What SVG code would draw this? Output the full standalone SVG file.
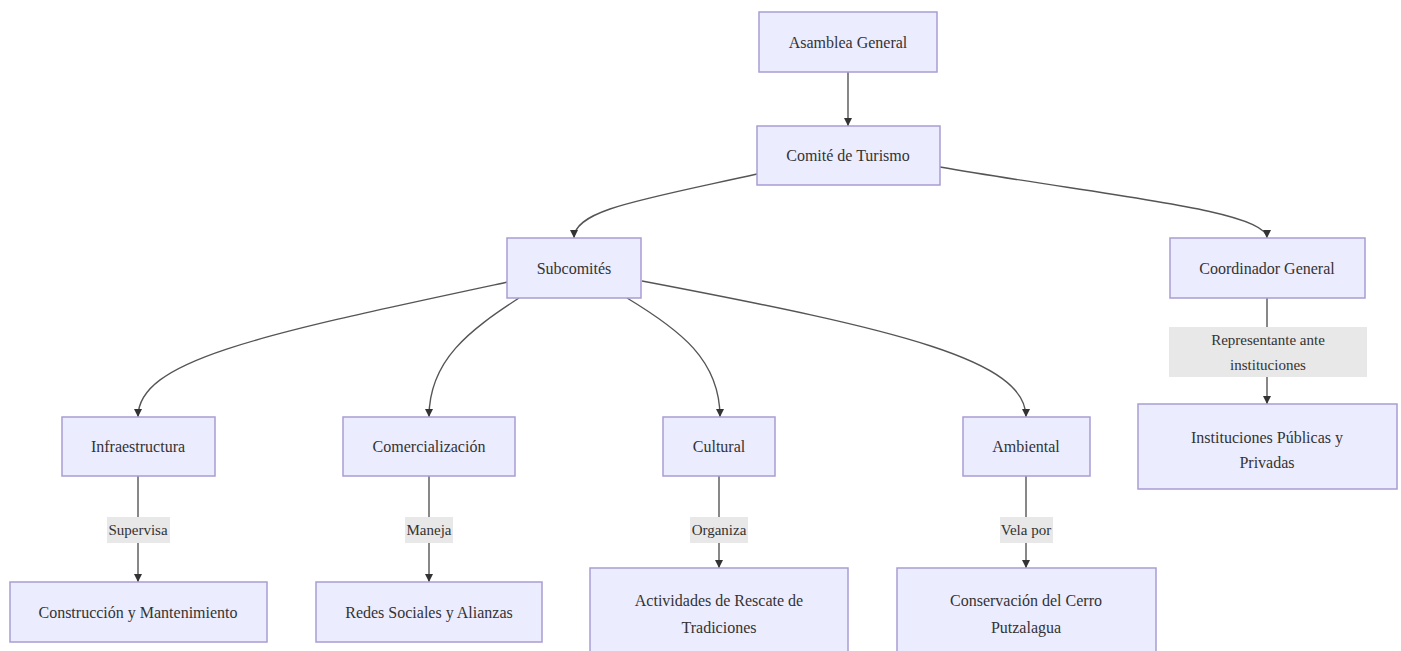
<svg xmlns="http://www.w3.org/2000/svg" width="1401" height="651" viewBox="0 0 1401 651">
<style>
.node rect{fill:#ECECFF;stroke:#a89dd4;stroke-width:1.5}
.node text,.lbl text{font-family:"Liberation Serif","Times New Roman",serif;font-size:16px;fill:#333;text-anchor:middle;dominant-baseline:central}
.lbl text{font-size:15px}
.lbl rect{fill:#e8e8e8}
.edge{fill:none;stroke:#555;stroke-width:1.4;marker-end:url(#arr)}
</style>
<defs>
<marker id="arr" viewBox="0 0 10 10" refX="10" refY="5" markerWidth="8" markerHeight="8" markerUnits="userSpaceOnUse" orient="auto">
<path d="M0,0 L10,5 L0,10 z" fill="#333"/>
</marker>
</defs>
<rect width="1401" height="651" fill="#fff"/>
<g id="connectors">
<path class="edge" d="M848,72 L848,126"/>
<path class="edge" d="M757,174 C640,200 574,210 574,238"/>
<path class="edge" d="M940,167 C1100,195 1267,210 1267,238"/>
<path class="edge" d="M508,282 C260,335 138,360 138,417"/>
<path class="edge" d="M519,298 C470,330 429,360 429,417"/>
<path class="edge" d="M627,298 C680,330 720,360 720,417"/>
<path class="edge" d="M642,281 C900,330 1026,360 1026,417"/>
<path class="edge" d="M138,476 L138,582"/>
<path class="edge" d="M429,476 L429,582"/>
<path class="edge" d="M719,476 L719,568"/>
<path class="edge" d="M1026,476 L1026,568"/>
<path class="edge" d="M1267,298 L1267,404"/>
<g class="lbl" id="lbl-supervisa"><rect x="107" y="517" width="63" height="26"/><text x="138" y="530">Supervisa</text></g>
<g class="lbl" id="lbl-maneja"><rect x="405" y="517" width="48" height="26"/><text x="429" y="530">Maneja</text></g>
<g class="lbl" id="lbl-organiza"><rect x="690" y="517" width="58" height="26"/><text x="719" y="530">Organiza</text></g>
<g class="lbl" id="lbl-vela"><rect x="1000" y="517" width="53" height="26"/><text x="1026" y="530">Vela por</text></g>
<g class="lbl" id="lbl-repr"><rect x="1169" y="327" width="198" height="50"/><text x="1268" y="340">Representante ante</text><text x="1268" y="365">instituciones</text></g>
</g>
<g class="node" id="asamblea"><rect x="759" y="12" width="178" height="60"/><text x="848" y="42">Asamblea General</text></g>
<g class="node" id="comite"><rect x="757" y="126" width="183" height="59"/><text x="848" y="155">Comité de Turismo</text></g>
<g class="node" id="subcomites"><rect x="507" y="238" width="134" height="60"/><text x="574" y="268">Subcomités</text></g>
<g class="node" id="coordinador"><rect x="1170" y="238" width="195" height="60"/><text x="1267" y="268">Coordinador General</text></g>
<g class="node" id="instituciones"><rect x="1138" y="404" width="259" height="85"/><text x="1267" y="437">Instituciones Públicas y</text><text x="1267" y="462">Privadas</text></g>
<g class="node" id="infra"><rect x="62" y="417" width="153" height="59"/><text x="138" y="446">Infraestructura</text></g>
<g class="node" id="comercial"><rect x="343" y="417" width="172" height="59"/><text x="429" y="446">Comercialización</text></g>
<g class="node" id="cultural"><rect x="663" y="417" width="112" height="59"/><text x="719" y="446">Cultural</text></g>
<g class="node" id="ambiental"><rect x="963" y="417" width="127" height="59"/><text x="1026" y="446">Ambiental</text></g>
<g class="node" id="construccion"><rect x="10" y="582" width="257" height="60"/><text x="138" y="612">Construcción y Mantenimiento</text></g>
<g class="node" id="redes"><rect x="316" y="582" width="226" height="60"/><text x="429" y="612">Redes Sociales y Alianzas</text></g>
<g class="node" id="actividades"><rect x="590" y="568" width="258" height="88"/><text x="719" y="600">Actividades de Rescate de</text><text x="719" y="627">Tradiciones</text></g>
<g class="node" id="conservacion"><rect x="897" y="568" width="259" height="88"/><text x="1026" y="600">Conservación del Cerro</text><text x="1026" y="627">Putzalagua</text></g>
</svg>
